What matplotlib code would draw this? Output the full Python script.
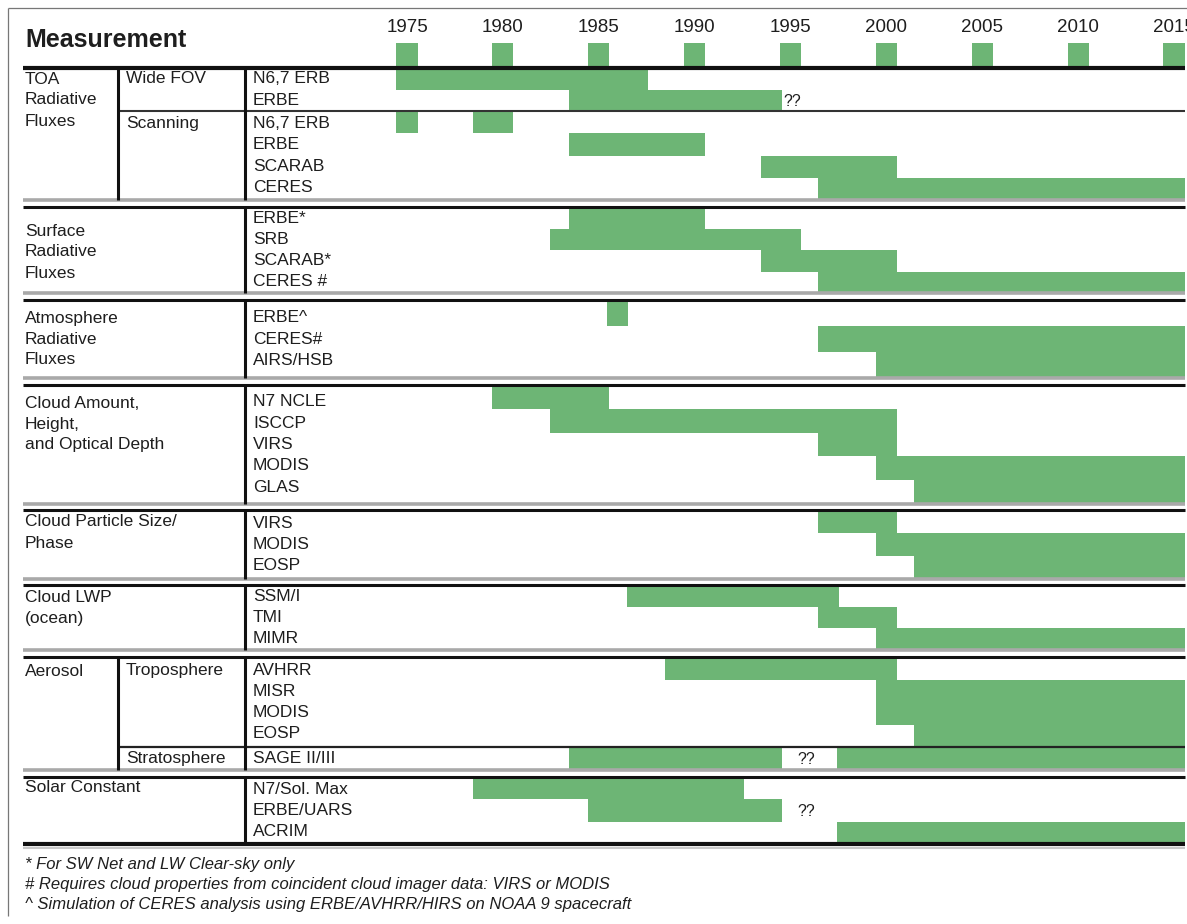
import matplotlib.pyplot as plt
import numpy as np

plt.rcParams['font.family'] = ['Liberation Sans', 'DejaVu Sans']

# ---------------------------------------------------------------
# data
# ---------------------------------------------------------------
row_names = [
    "N6,7 ERB", "ERBE",
    "N6,7 ERB", "ERBE", "SCARAB", "CERES",
    "ERBE*", "SRB", "SCARAB*", "CERES #",
    "ERBE^", "CERES#", "AIRS/HSB",
    "N7 NCLE", "ISCCP", "VIRS", "MODIS", "GLAS",
    "VIRS", "MODIS", "EOSP",
    "SSM/I", "TMI", "MIMR",
    "AVHRR", "MISR", "MODIS", "EOSP",
    "SAGE II/III",
    "N7/Sol. Max", "ERBE/UARS", "ACRIM",
]

# one entry per green segment (row index, first year, last year)
bar_rows = [0, 1, 2, 2, 3, 4, 5, 6, 7, 8, 9, 10, 11, 12, 13, 14, 15, 16, 17,
            18, 19, 20, 21, 22, 23, 24, 25, 26, 27, 28, 28, 29, 30, 31]
bar_start = [1975, 1984, 1975, 1979, 1984, 1994, 1997, 1984, 1983, 1994, 1997,
             1986, 1997, 2000, 1980, 1983, 1997, 2000, 2002, 1997, 2000, 2002,
             1987, 1997, 2000, 1989, 2000, 2000, 2002, 1984, 1998, 1979, 1985, 1998]
bar_end = [1987, 1994, 1975, 1980, 1990, 2000, 2015, 1990, 1995, 2000, 2015,
           1986, 2015, 2015, 1985, 2000, 2000, 2015, 2015, 2000, 2015, 2015,
           1997, 2000, 2015, 2000, 2015, 2015, 2015, 1994, 2015, 1992, 1994, 2015]

# "??" marks: row and year where the label sits
unknown_rows = [1, 28, 30]
unknown_year = [1995.1, 1995.8, 1995.8]

tick_years = [1975, 1980, 1985, 1990, 1995, 2000, 2005, 2010, 2015]

group_labels = ["TOA\nRadiative\nFluxes", "Surface\nRadiative\nFluxes",
                "Atmosphere\nRadiative\nFluxes", "Cloud Amount,\nHeight,\nand Optical Depth",
                "Cloud Particle Size/\nPhase", "Cloud LWP\n(ocean)", "Aerosol", "Solar Constant"]

band_rows = [2, 4, 4, 3, 5, 3, 3, 4, 1, 3]
band_sub = ["Wide FOV", "Scanning", None, None, None, None, None,
            "Troposphere", "Stratosphere", None]

footnotes = ["* For SW Net and LW Clear-sky only",
             "# Requires cloud properties from coincident cloud imager data: VIRS or MODIS",
             "^ Simulation of CERES analysis using ERBE/AVHRR/HIRS on NOAA 9 spacecraft"]

# ---------------------------------------------------------------
# layout (pixels, y downwards)
# ---------------------------------------------------------------
W, H = 1187, 924
PX_PER_YEAR = 19.175
X_1975 = 407
HALF = 0.55               # half width of one year cell
GREEN = '#6db575'
TXT = '#1e1e1e'

band_top = [68, 111, 207, 300, 385, 510, 585, 657, 747, 777]
band_bot = [111, 200, 293, 378, 504, 579, 650, 747, 770, 844]
group_label_y = [79, 231, 318, 403, 522, 597, 671, 788]
TEXT_PITCH = 21.25

row_top, row_bot, text_y = [], [], []
for top, bot, n in zip(band_top, band_bot, band_rows):
    edges = np.linspace(top, bot, n + 1)
    row_top += list(edges[:-1])
    row_bot += list(edges[1:])
    mid = (top + bot) / 2
    text_y += [mid + (i - (n - 1) / 2) * TEXT_PITCH for i in range(n)]
row_top = np.array(row_top)
row_bot = np.array(row_bot)

fig = plt.figure(figsize=(W / 100, H / 100), dpi=100)
fig.patch.set_facecolor('white')

# bars live on a year axis
yr0 = 1975 - X_1975 / PX_PER_YEAR
yr1 = yr0 + W / PX_PER_YEAR
ax = fig.add_axes([0, 0, 1, 1])
ax.set_xlim(yr0, yr1)
ax.set_ylim(H, 0)
ax.axis('off')

# table grid and text on a pixel axis on top
tab = fig.add_axes([0, 0, 1, 1], facecolor='none')
tab.set_xlim(0, W)
tab.set_ylim(H, 0)
tab.axis('off')

# green bars
rows = np.array(bar_rows)
starts = np.array(bar_start) - HALF
widths = np.array(bar_end) - np.array(bar_start) + 2 * HALF
ax.barh((row_top[rows] + row_bot[rows]) / 2, widths, left=starts,
        height=row_bot[rows] - row_top[rows], color=GREEN, linewidth=0, zorder=1)

# year ticks
ax.bar(tick_years, 25, bottom=43, width=2 * HALF, color=GREEN, linewidth=0, zorder=1)
for y in tick_years:
    ax.text(y, 28, str(y), ha='center', va='center', fontsize=13.5, color=TXT)

for r, yr in zip(unknown_rows, unknown_year):
    ax.text(yr, (row_top[r] + row_bot[r]) / 2 + 1, "??", ha='center', va='center',
            fontsize=11.5, color=TXT)

# ---------------------------------------------------------------
# grid lines
# ---------------------------------------------------------------
X_L, X_R = 23, 1185
X_SUB, X_NAME = 118, 245

def hline(y, x0, x1, color='#111111', lw=2.2):
    tab.plot([x0, x1], [y, y], color=color, lw=lw, solid_capstyle='butt', zorder=5)

def vline(x, y0, y1, color='#111111', lw=2.2):
    tab.plot([x, x], [y0, y1], color=color, lw=lw, solid_capstyle='butt', zorder=5)

# outer frame
hline(8, 8, W, color='#777777', lw=0.9)
vline(8, 8, 916, color='#777777', lw=0.9)

hline(68, X_L, X_R, lw=3.0)
hline(111, X_SUB, X_R, color='#333333', lw=1.5)
hline(747, X_SUB, X_R, color='#222222', lw=1.6)
hline(844, X_L, X_R, lw=3.0)
hline(848, X_L, X_R, color='#c8c8c8', lw=1.5)

for gray_y, black_y in [(200, 207), (293, 300), (378, 385), (504, 510),
                        (579, 585), (650, 657), (770, 777)]:
    hline(gray_y, X_L, X_R, color='#a9a9a9', lw=2.6)
    hline(black_y, X_L, X_R, lw=2.2)

group_bounds = [(68, 200), (207, 293), (300, 378), (385, 504), (510, 579),
                (585, 650), (657, 770), (777, 844)]
for y0, y1 in group_bounds:
    vline(X_NAME, y0, y1)
vline(X_SUB, 68, 200)
vline(X_SUB, 657, 770)

# ---------------------------------------------------------------
# text
# ---------------------------------------------------------------
tab.text(25, 40, "Measurement", fontsize=18, fontweight='bold', color=TXT,
         ha='left', va='center')

for name, y in zip(row_names, text_y):
    tab.text(253, y, name, fontsize=12.5, color=TXT, ha='left', va='center')

for label, y in zip(group_labels, group_label_y):
    for i, line in enumerate(label.split("\n")):
        tab.text(25, y + i * 21, line, fontsize=12.5, color=TXT, ha='left', va='center')

first_row = np.cumsum([0] + band_rows[:-1])
for sub, r0 in zip(band_sub, first_row):
    if sub:
        tab.text(126, text_y[r0], sub, fontsize=12.5, color=TXT, ha='left', va='center')

for i, note in enumerate(footnotes):
    tab.text(25, 864 + i * 20.5, note, fontsize=12, style='italic', color=TXT,
             ha='left', va='center')

fig.savefig("out.png", dpi=100, facecolor='white')
